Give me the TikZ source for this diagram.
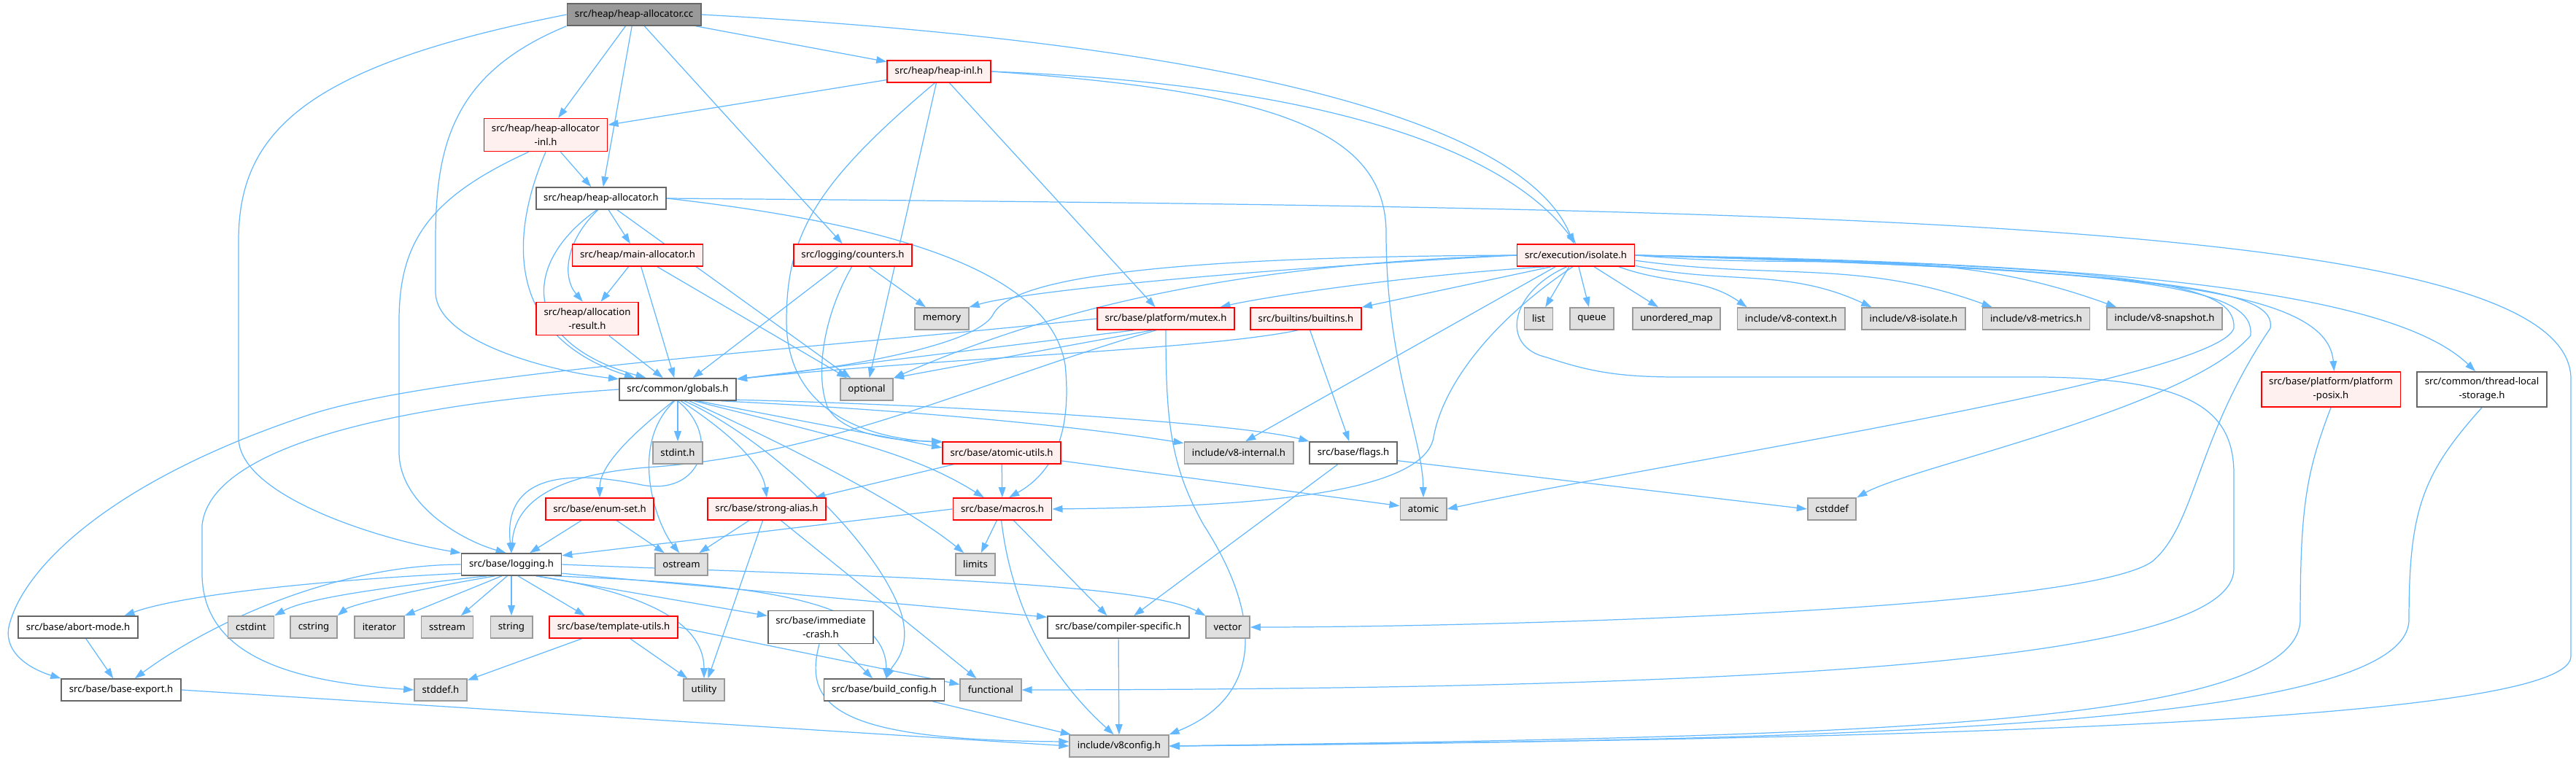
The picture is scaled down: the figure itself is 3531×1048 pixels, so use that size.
\documentclass[tikz,border=0pt]{standalone}
\usepackage{fontspec}
\setmainfont{Noto Sans}
\usetikzlibrary{arrows.meta}
\pgfdeclarelayer{background}
\pgfsetlayers{background,main}
\definecolor{edgeblue}{HTML}{63B8FF}
\definecolor{grey40}{HTML}{666666}
\definecolor{truncfill}{HTML}{FFF0F0}
\definecolor{sysfill}{HTML}{E0E0E0}
\definecolor{sysdraw}{HTML}{999999}
\definecolor{rootfill}{HTML}{999999}

\begin{document}
\begin{tikzpicture}[x=0.02cm, y=-0.02cm,
  every node/.style={draw, rectangle, font=\fontsize{7.5}{10.8}\selectfont,
  inner xsep=6pt, inner ysep=4.5pt, minimum height=17pt, align=center,
  line width=1pt},
  hdr/.style={draw=grey40, fill=white}, trunc/.style={draw=red, fill=truncfill},
  sysh/.style={draw=sysdraw, fill=sysfill}, rootfile/.style={draw=grey40, fill=rootfill},
  >={Triangle[length=8pt, width=5.5pt]}, inc/.style={->, draw=edgeblue, line width=0.7pt}]
  \useasboundingbox (0,0) rectangle (3531,1048);
  % rows from top to bottom
  \node[rootfile] (cc) at (869,20) {src/heap/heap-allocator.cc};
  \node[trunc] (hinl) at (1287,98) {src/heap/heap-inl.h};
  \node[trunc] (hainl) at (748,185) {src/heap/heap-allocator\\-inl.h};
  \node[hdr] (hah) at (824,272) {src/heap/heap-allocator.h};
  \node[trunc] (mainal) at (874,350) {src/heap/main-allocator.h};
  \node[trunc] (counters) at (1169,350) {src/logging/counters.h};
  \node[trunc] (isolate) at (2160,350) {src/execution/isolate.h};
  \node[trunc] (allocres) at (805,437) {src/heap/allocation\\-result.h};
  \node[sysh] (memory) at (1291,437) {memory};
  \node[trunc] (mutex) at (1598,437) {src/base/platform/mutex.h};
  \node[trunc] (builtins) at (1790,437) {src/builtins/builtins.h};
  \node[sysh] (list) at (2109,437) {list};
  \node[sysh] (queue) at (2182,437) {queue};
  \node[sysh] (umap) at (2298,437) {unordered\_map};
  \node[sysh] (v8ctx) at (2455,437) {include/v8-context.h};
  \node[sysh] (v8iso) at (2623,437) {include/v8-isolate.h};
  \node[sysh] (v8met) at (2791,437) {include/v8-metrics.h};
  \node[sysh] (v8snap) at (2967,437) {include/v8-snapshot.h};
  \node[trunc] (posix) at (3195,534) {src/base/platform/platform\\-posix.h};
  \node[hdr] (tls) at (3402,534) {src/common/thread-local\\-storage.h};
  \node[hdr] (globals) at (929,534) {src/common/globals.h};
  \node[sysh] (optional) at (1188,534) {optional};
  \node[sysh] (stdint) at (929,621) {stdint.h};
  \node[trunc] (atomicu) at (1373,621) {src/base/atomic-utils.h};
  \node[sysh] (v8int) at (1698,621) {include/v8-internal.h};
  \node[hdr] (flags) at (1855,621) {src/base/flags.h};
  \node[trunc] (enumset) at (822,698) {src/base/enum-set.h};
  \node[trunc] (stralias) at (1051,698) {src/base/strong-alias.h};
  \node[trunc] (macros) at (1374,698) {src/base/macros.h};
  \node[sysh] (atomic) at (1951,698) {atomic};
  \node[sysh] (cstddef) at (2511,698) {cstddef};
  \node[hdr] (logging) at (701,774) {src/base/logging.h};
  \node[sysh] (ostream) at (934,774) {ostream};
  \node[sysh] (limits) at (1337,774) {limits};
  \node[hdr] (abortm) at (107,860) {src/base/abort-mode.h};
  \node[sysh] (cstdint) at (344,860) {cstdint};
  \node[sysh] (cstring) at (430,860) {cstring};
  \node[sysh] (iterator) at (520,860) {iterator};
  \node[sysh] (sstream) at (613,860) {sstream};
  \node[sysh] (string) at (701,860) {string};
  \node[trunc] (tmplu) at (841,860) {src/base/template-utils.h};
  \node[hdr] (immcrash) at (1125,860) {src/base/immediate\\-crash.h};
  \node[hdr] (compspec) at (1533,860) {src/base/compiler-specific.h};
  \node[sysh] (vector) at (1683,860) {vector};
  \node[hdr] (bexport) at (166,946) {src/base/base-export.h};
  \node[sysh] (stddef) at (604,946) {stddef.h};
  \node[sysh] (utility) at (965,946) {utility};
  \node[hdr] (buildcfg) at (1212,946) {src/base/build\_config.h};
  \node[sysh] (functional) at (1358,946) {functional};
  \node[sysh] (v8config) at (1534,1023) {include/v8config.h};
  \begin{pgfonlayer}{background}
  % heap-allocator.cc
  \draw[inc] (cc) -- (hainl); \draw[inc] (cc) -- (hah);
  \draw[inc] (cc) -- (counters); \draw[inc] (cc) -- (hinl);
  \draw[inc] (cc.east) .. controls (1700,60) and (2090,170) .. (isolate.100);
  \draw[inc] (cc.west) .. controls (420,90) and (327,180) .. (327,330) -- (327,600)
    .. controls (327,680) and (520,740) .. (logging.north west);
  \draw[inc] (cc.south west) .. controls (620,100) and (597,200) .. (597,330) -- (597,400)
    .. controls (597,470) and (760,510) .. (globals.170);
  % heap-inl.h
  \draw[inc] (hinl) -- (hainl); \draw[inc] (hinl) -- (optional);
  \draw[inc] (hinl) -- (mutex);
  \draw[inc] (hinl.250) .. controls (1120,250) and (1078,320) .. (1078,440)
    .. controls (1078,560) and (1180,600) .. (atomicu.170);
  \draw[inc] (hinl.east) .. controls (1800,115) and (2060,200) .. (isolate.north);
  \draw[inc] (hinl.east) .. controls (1750,125) and (1900,180) .. (1900,320)
    .. controls (1900,500) and (1950,600) .. (atomic.north);
  % heap-allocator-inl.h
  \draw[inc] (hainl) -- (hah);
  \draw[inc] (hainl.south) .. controls (700,320) and (690,460) .. (globals.165);
  \draw[inc] (hainl.225) .. controls (590,270) and (547,330) .. (547,440) -- (547,620)
    .. controls (547,690) and (630,740) .. (logging.115);
  % heap-allocator.h
  \draw[inc] (hah) -- (mainal); \draw[inc] (hah) -- (optional);
  \draw[inc] (hah.255) .. controls (775,330) and (770,380) .. (allocres.105);
  \draw[inc] (hah.250) .. controls (715,360) and (712,470) .. (globals.160);
  \draw[inc] (hah.east) .. controls (1250,310) and (1440,380) .. (1460,500)
    .. controls (1470,600) and (1440,650) .. (macros.60);
  \draw[inc] (hah.east) .. controls (2500,285) and (3524,300) .. (3524,520) -- (3524,900)
    .. controls (3524,1000) and (2400,1015) .. (v8config.east);
  % main-allocator.h, allocation-result.h, counters.h
  \draw[inc] (mainal) -- (allocres); \draw[inc] (mainal) -- (globals);
  \draw[inc] (mainal) -- (optional); \draw[inc] (allocres) -- (globals);
  \draw[inc] (counters) -- (memory); \draw[inc] (counters) -- (globals);
  \draw[inc] (counters.265) .. controls (1125,440) and (1118,520) .. (1135,560)
    .. controls (1160,600) and (1240,605) .. (atomicu.north west);
  % isolate.h, to the left
  \draw[inc] (isolate.west) .. controls (1600,352) and (1390,380) .. (1362,430)
    .. controls (1340,475) and (1150,505) .. (globals.10);
  \draw[inc] (isolate.west) .. controls (1700,362) and (1450,420) .. (optional.north east);
  \draw[inc] (isolate.west) .. controls (1700,370) and (1400,400) .. (memory.north east);
  \draw[inc] (isolate.200) .. controls (1900,380) and (1720,410) .. (mutex.12);
  \draw[inc] (isolate.205) -- (builtins.north east);
  \draw[inc] (isolate) -- (v8int.60);
  \draw[inc] (isolate.255) .. controls (2030,450) and (1975,540) .. (1965,600)
    .. controls (1950,680) and (1700,695) .. (macros.east);
  % isolate.h, below
  \draw[inc] (isolate) -- (list); \draw[inc] (isolate) -- (queue);
  \draw[inc] (isolate) -- (umap);
  \draw[inc] (isolate.345) to[out=-20, in=145] ([xshift=8pt]v8ctx.north west);
  \draw[inc] (isolate.350) to[out=-12, in=155] ([xshift=8pt]v8iso.north west);
  \draw[inc] (isolate.355) to[out=-8, in=160] ([xshift=8pt]v8met.north west);
  \draw[inc] (isolate.east) to[out=-5, in=160] ([xshift=8pt]v8snap.north west);
  % isolate.h, round the right side
  \draw[inc] (isolate.east) .. controls (2900,370) and (3190,390) .. (posix.80);
  \draw[inc] (isolate.east) .. controls (2900,360) and (3280,400) .. (tls.110);
  \draw[inc] (isolate.east) .. controls (2950,365) and (3065,390) .. (3062,450)
    .. controls (3040,520) and (2300,630) .. (atomic.east);
  \draw[inc] (isolate.east) .. controls (2980,368) and (3090,400) .. (3085,460)
    .. controls (3000,560) and (2620,640) .. (cstddef.north east);
  \draw[inc] (isolate.east) .. controls (3000,372) and (3120,400) .. (3112,450)
    .. controls (3010,600) and (3010,720) .. (2950,770)
    .. controls (2850,840) and (2000,860) .. (vector.east);
  \draw[inc] (isolate.232) .. controls (2070,400) and (2055,475) .. (2120,490)
    .. controls (2180,510) and (2220,517) .. (2300,517) -- (2800,517)
    .. controls (3000,520) and (3062,560) .. (3062,650) -- (3062,780)
    .. controls (3062,900) and (2500,945) .. (functional.east);
  % mutex.h, builtins.h
  \draw[inc] (mutex.200) -- (globals.10); \draw[inc] (mutex.220) -- (optional.north east);
  \draw[inc] (mutex.west) .. controls (1100,480) and (600,510) .. (420,570)
    .. controls (150,660) and (30,780) .. (12,860) .. controls (5,900) and (50,920) .. (bexport.north west);
  \draw[inc] (mutex.230) .. controls (1350,520) and (1150,620) .. (900,640)
    .. controls (740,650) and (705,700) .. (logging.north);
  \draw[inc] (mutex.south) .. controls (1598,580) and (1605,640) .. (1650,720)
    .. controls (1740,860) and (1720,960) .. (v8config.north east);
  \draw[inc] (builtins.235) .. controls (1650,480) and (1300,490) .. (globals.10);
  \draw[inc] (builtins) -- (flags);
  % globals.h
  \draw[inc] (globals) -- (stdint);
  \draw[inc] (globals.250) .. controls (860,600) and (822,640) .. (enumset.north);
  \draw[inc] (globals.255) .. controls (860,610) and (900,720) .. (ostream.100);
  \draw[inc] (globals.285) .. controls (1010,600) and (1045,640) .. (stralias.north);
  \draw[inc] (globals.330) -- (atomicu.175);
  \draw[inc] (globals.325) .. controls (1150,600) and (1250,620) .. (macros.148);
  \draw[inc] (globals.315) .. controls (1100,620) and (1250,700) .. (limits.135);
  \draw[inc] (globals.345) .. controls (1200,560) and (1450,580) .. (v8int.170);
  \draw[inc] (globals.350) .. controls (1300,555) and (1700,580) .. (flags.north west);
  \draw[inc] (globals.300) .. controls (1050,600) and (1200,740) .. (1235,840)
    .. controls (1250,890) and (1225,910) .. (buildcfg.80);
  \draw[inc] (globals.west) .. controls (600,550) and (290,600) .. (277,720) -- (277,790)
    .. controls (280,900) and (400,935) .. (stddef.west);
  \draw[inc] (globals.south) .. controls (990,600) and (960,680) .. (880,665)
    .. controls (760,640) and (690,660) .. (logging.north);
  % enum-set.h, strong-alias.h, atomic-utils.h, flags.h
  \draw[inc] (enumset) -- (logging); \draw[inc] (enumset) -- (ostream);
  \draw[inc] (stralias) -- (ostream); \draw[inc] (stralias) -- (utility);
  \draw[inc] (stralias) -- (functional);
  \draw[inc] (atomicu) -- (macros); \draw[inc] (atomicu) -- (atomic);
  \draw[inc] (atomicu) -- (stralias);
  \draw[inc] (flags) -- (compspec); \draw[inc] (flags.350) -- (cstddef.west);
  % macros.h
  \draw[inc] (macros) -- (limits); \draw[inc] (macros) -- (compspec);
  \draw[inc] (macros.265) .. controls (1385,820) and (1430,920) .. (v8config.115);
  \draw[inc] (macros.west) -- (logging.10);
  % logging.h
  \draw[inc] (logging.190) .. controls (450,795) and (250,815) .. (abortm.14);
  \draw[inc] (logging.180) .. controls (450,775) and (280,860) .. (bexport.40);
  \draw[inc] (logging.205) .. controls (530,805) and (420,820) .. (cstdint.north east);
  \draw[inc] (logging.215) .. controls (560,810) and (480,830) .. (cstring.north east);
  \draw[inc] (logging.230) -- (iterator.north east);
  \draw[inc] (logging.250) -- (sstream.40);
  \draw[inc] (logging) -- (string);
  \draw[inc] (logging.300) -- (tmplu.158);
  \draw[inc] (logging.335) .. controls (900,815) and (965,860) .. (utility.north);
  \draw[inc] (logging.335) -- (immcrash.168);
  \draw[inc] (logging.345) .. controls (1000,800) and (1215,815) .. (buildcfg.80);
  \draw[inc] (logging.350) -- (compspec.172);
  \draw[inc] (logging.east) .. controls (1100,788) and (1560,795) .. (vector.north west);
  % bottom rows
  \draw[inc] (tmplu) -- (stddef); \draw[inc] (tmplu) -- (utility);
  \draw[inc] (tmplu.east) -- (functional.170);
  \draw[inc] (immcrash) -- (buildcfg);
  \draw[inc] (immcrash.265) .. controls (1100,970) and (1150,1015) .. (v8config.175);
  \draw[inc] (abortm) -- (bexport);
  \draw[inc] (bexport.east) -- (v8config.west);
  \draw[inc] (buildcfg) -- (v8config); \draw[inc] (compspec) -- (v8config);
  \draw[inc] (posix.south) .. controls (3160,650) and (3153,700) .. (3153,850)
    .. controls (3150,1000) and (2500,1010) .. (v8config.east);
  \draw[inc] (tls.south) .. controls (3320,650) and (3302,700) .. (3302,850)
    .. controls (3300,1000) and (2500,1015) .. (v8config.east);
  \end{pgfonlayer}
\end{tikzpicture}
\end{document}
